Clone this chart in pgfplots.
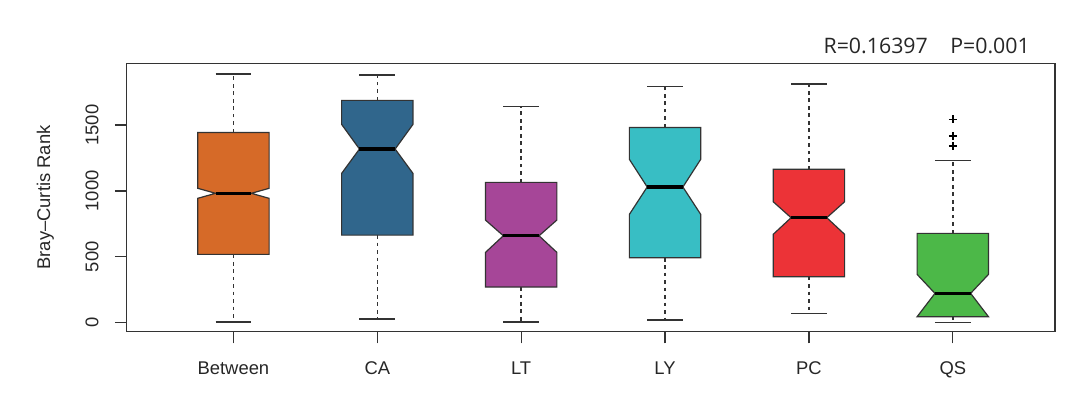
\documentclass[border=0pt]{standalone}
\usepackage{fontspec}
\setmainfont{Liberation Sans}
\newfontfamily\osans{Open Sans}
\usepackage{pgfplots}
\pgfplotsset{compat=1.18}
\definecolor{cBetween}{HTML}{D66A28}
\definecolor{cCA}{HTML}{30668C}
\definecolor{cLT}{HTML}{A64698}
\definecolor{cLY}{HTML}{38BEC4}
\definecolor{cPC}{HTML}{EC3337}
\definecolor{cQS}{HTML}{4CB848}
\colorlet{edge}{black!80}
% #1 x, #2 colour, #3 lower whisker, #4 Q1, #5 notch low, #6 median, #7 notch high, #8 Q3, #9 upper whisker
\newcommand{\nbox}[9]{%
  \addplot[edge, line width=1.1pt, dash pattern=on 2.8pt off 2.8pt] coordinates {(#1,#8) (#1,#9)};
  \addplot[edge, line width=1.1pt, dash pattern=on 2.8pt off 2.8pt] coordinates {(#1,#4) (#1,#3)};
  \addplot[edge, line width=1.1pt] coordinates {({#1-0.124},#9) ({#1+0.124},#9)};
  \addplot[edge, line width=1.1pt] coordinates {({#1-0.124},#3) ({#1+0.124},#3)};
  \addplot[draw=edge, line width=0.9pt, fill=#2] coordinates {
    ({#1-0.248},#4) ({#1-0.248},#5) ({#1-0.124},#6) ({#1-0.248},#7) ({#1-0.248},#8)
    ({#1+0.248},#8) ({#1+0.248},#7) ({#1+0.124},#6) ({#1+0.248},#5) ({#1+0.248},#4)} -- cycle;
  \addplot[black, line width=2.4pt] coordinates {({#1-0.124},#6) ({#1+0.124},#6)};
}
\begin{document}
\begin{tikzpicture}
\useasboundingbox (0,0) rectangle (810pt,295.5pt);
\begin{axis}[
  at={(95pt,46.7pt)}, anchor=south west,
  width=696.2pt, height=201.3pt, scale only axis,
  xmin=-0.742, xmax=5.71, ymin=-68, ymax=1968,
  xtick={0,1,2,3,4,5}, xticklabels={Between,CA,LT,LY,PC,QS},
  ytick={0,500,1000,1500}, yticklabels={0,500,1000,1500},
  tick align=outside, major tick length=8.8pt, tick pos=left,
  axis line style={edge, line width=0.9pt},
  tick style={edge, line width=0.9pt},
  tick label style={font=\fontsize{13.8}{16}\selectfont, text=black!85},
  yticklabel style={rotate=90, anchor=south, inner sep=0pt},
  yticklabel shift=12pt,
  xticklabel style={anchor=north, inner sep=0pt},
  xticklabel shift=13.6pt,
  ylabel={Bray--Curtis Rank},
  ylabel style={at={([xshift=-60.9pt]axis description cs:0,0.5)}, anchor=center, font=\fontsize{13.8}{16}\selectfont, text=black!85},
]
\nbox{0}{cBetween}{5}{519}{944}{982}{1020}{1444}{1887}
\nbox{1}{cCA}{30}{665}{1133}{1318}{1505}{1687}{1879}
\nbox{2}{cLT}{5}{271}{534}{660}{779}{1065}{1639}
\nbox{3}{cLY}{20}{493}{822}{1030}{1240}{1482}{1791}
\nbox{4}{cPC}{71}{349}{671}{797}{918}{1164}{1811}
\nbox{5}{cQS}{3}{46}{46}{223}{367}{678}{1229}
\addplot[only marks, mark=+, mark size=3pt, black, mark options={line width=1.2pt}] coordinates {(5,1543) (5,1417) (5,1341)};
\end{axis}
\node[font=\osans\fontsize{16}{19}\selectfont, text=black!85] at (695pt,261pt) {R=0.16397\hspace{1.05em}P=0.001};
\end{tikzpicture}
\end{document}
